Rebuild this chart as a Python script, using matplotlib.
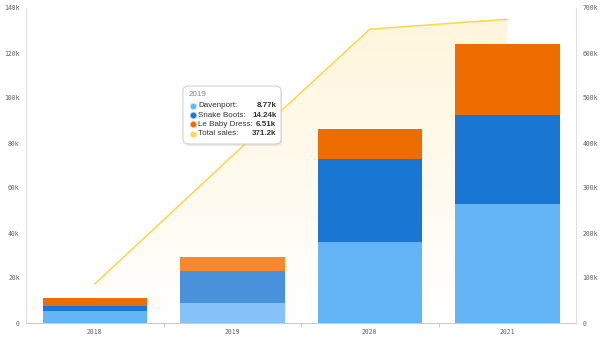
import matplotlib
matplotlib.use("Agg")
import matplotlib.pyplot as plt
import numpy as np
from matplotlib.patches import FancyBboxPatch, Polygon
from matplotlib.colors import LinearSegmentedColormap

years = ["2018", "2019", "2020", "2021"]
davenport = [5.3, 8.77, 36.0, 52.9]
snake_boots = [2.4, 14.24, 36.9, 39.5]
le_baby = [3.3, 6.51, 13.3, 31.5]
total_sales = [86.7, 371.2, 653.0, 675.0]
left_ticks = [0, 20, 40, 60, 80, 100, 120, 140]
right_ticks = [0, 100, 200, 300, 400, 500, 600, 700]

c_dav, c_snake, c_baby = "#64B5F6", "#1976D2", "#EF6C00"
h_dav, h_snake, h_baby = "#85C2F8", "#4A91DB", "#F28A33"
c_total = "#FFD54F"
hover = 1

fig = plt.figure(figsize=(6, 3.38), dpi=100)
W, H = 600, 338
ax = fig.add_axes([26 / W, 15 / H, (576 - 26) / W, (323 - 8) / H])
ax2 = ax.twinx()
x = np.arange(len(years))

# gradient fill under total sales on ax2
ax2.set_ylim(0, 700)
ax2.set_xlim(-0.5, 3.5)
verts = [(x[0], 0)] + list(zip(x, total_sales)) + [(x[-1], 0)]
poly = Polygon(verts, closed=True, facecolor="none", edgecolor="none")
ax2.add_patch(poly)
cmap = LinearSegmentedColormap.from_list("g", ["#FFFFFF", "#FFF6DC"])
grad = np.linspace(0, 1, 256).reshape(-1, 1)
im = ax2.imshow(grad, cmap=cmap, aspect="auto", origin="lower",
                extent=[x[0], x[-1], 0, max(total_sales)], zorder=0)
im.set_clip_path(poly)

# bars on ax (drawn above ax2 fill)
ax.set_zorder(ax2.get_zorder() + 1)
ax.patch.set_visible(False)
cols_d = [h_dav if i == hover else c_dav for i in x]
cols_s = [h_snake if i == hover else c_snake for i in x]
cols_b = [h_baby if i == hover else c_baby for i in x]
bw = 0.76
ax.bar(x, davenport, bw, color=cols_d, zorder=2)
ax.bar(x, snake_boots, bw, bottom=davenport, color=cols_s, zorder=2)
bot2 = [a + b for a, b in zip(davenport, snake_boots)]
ax.bar(x, le_baby, bw, bottom=bot2, color=cols_b, zorder=2)
ax.set_xlim(-0.5, 3.5)
ax.set_ylim(0, 140)

# total sales line, drawn above bars using ax2's data scale
ax.plot(x, total_sales, color=c_total, lw=1.1, zorder=4, transform=ax2.transData)

tick_font = dict(family="DejaVu Sans Mono", size=4.7, color="#666666")
ax.set_yticks(left_ticks)
ax.set_yticklabels([f"{v}k" if v else "0" for v in left_ticks], **tick_font)
ax2.set_yticks(right_ticks)
ax2.set_yticklabels([f"{v}k" if v else "0" for v in right_ticks], **tick_font)
ax.set_xticks(x)
ax.set_xticklabels(years, **tick_font)
ax.set_xticks([0.5, 1.5, 2.5], minor=True)
ax.tick_params(axis="x", which="major", length=0, pad=4)
ax.tick_params(axis="x", which="minor", length=3, color="#cccccc", width=0.8)
ax.tick_params(axis="y", length=0, pad=4.5)
ax2.tick_params(axis="y", length=0, pad=4.5)
ax2.tick_params(axis="x", length=0)

for a in (ax, ax2):
    a.spines["top"].set_visible(False)
for s in ("left", "right"):
    ax.spines[s].set_color("#e0e0e0")
    ax2.spines[s].set_color("#e0e0e0")
ax.spines["right"].set_visible(False)
ax2.spines["left"].set_visible(False)
ax.spines["bottom"].set_color("#cccccc")
ax2.spines["bottom"].set_visible(False)

# tooltip
def fx(px):
    return px / W

def fy(py):
    return 1 - py / H

shadow = FancyBboxPatch((fx(184), fy(146)), fx(98), (144 - 86) / H,
                        boxstyle="round,pad=0,rounding_size=0.012",
                        transform=fig.transFigure, facecolor="#000000", alpha=0.08,
                        edgecolor="none", zorder=9)
fig.patches.append(shadow)
box = FancyBboxPatch((fx(183), fy(144)), fx(98), (144 - 86) / H,
                     boxstyle="round,pad=0,rounding_size=0.012",
                     transform=fig.transFigure, facecolor="white",
                     edgecolor="#cfcfcf", lw=0.7, zorder=10)
fig.patches.append(box)
tfont = dict(family="Liberation Sans", size=5.8)
fig.text(fx(188.5), fy(94), years[hover], color="#888888", va="center",
         zorder=11, **tfont)
rows = [("Davenport:", f"{davenport[hover]:.2f}k", c_dav),
        ("Snake Boots:", f"{snake_boots[hover]:.2f}k", c_snake),
        ("Le Baby Dress:", f"{le_baby[hover]:.2f}k", c_baby),
        ("Total sales:", f"{total_sales[hover]:.1f}k", c_total)]
ys = [105.8, 115.0, 124.3, 133.6]
for (lab, val, col), yy in zip(rows, ys):
    fig.text(fx(198.5), fy(yy), lab, color="#333333", va="center", zorder=11, **tfont)
    fig.text(fx(276.5), fy(yy), val, color="#333333", va="center", ha="right",
             weight="bold", zorder=11, **tfont)
    fig.lines.append(plt.Line2D([fx(192.5)], [fy(yy)], transform=fig.transFigure,
                                marker="o", ms=4.2, color=col, mec=col, alpha=0.35,
                                zorder=11))
    fig.lines.append(plt.Line2D([fx(192.5)], [fy(yy)], transform=fig.transFigure,
                                marker="o", ms=2.8, color=col, mec=col, zorder=12))

fig.savefig("out.png", dpi=100)
